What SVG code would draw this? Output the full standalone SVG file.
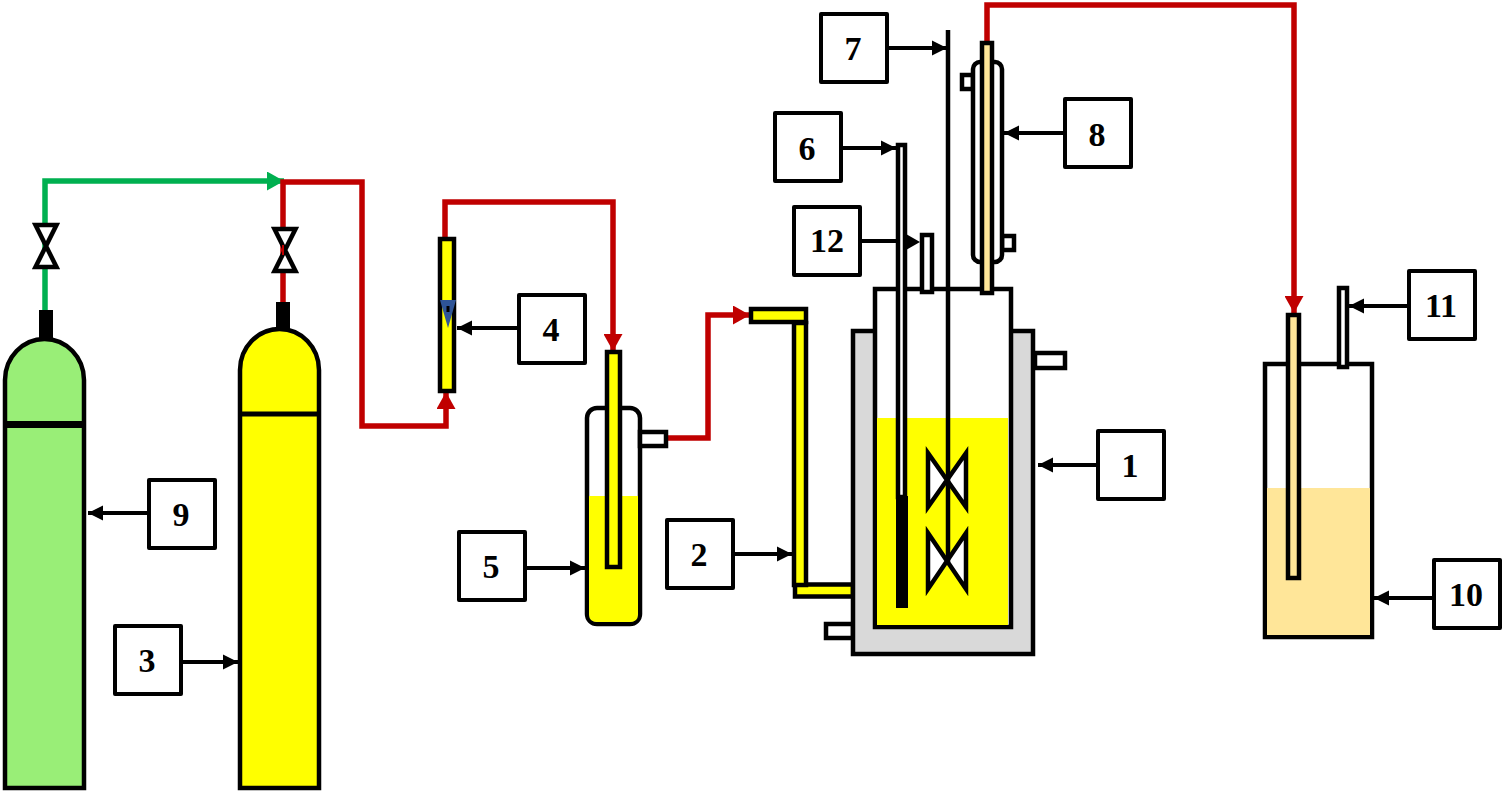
<svg xmlns="http://www.w3.org/2000/svg" width="1505" height="794" viewBox="0 0 1505 794">
<style>
.o{stroke:#000;stroke-width:4.5;stroke-linejoin:miter}
.w{fill:#fff}.y{fill:#ff0}.c{fill:#ffe699}.g{fill:#d9d9d9}.n{fill:none}
.red{fill:none;stroke:#c00000;stroke-width:5.5}
.grn{fill:none;stroke:#00b050;stroke-width:5.5}
.lead{stroke:#000;stroke-width:4;fill:none;marker-end:url(#ah)}
.box{fill:#fff;stroke:#000;stroke-width:4;stroke-linejoin:round}
text{font-family:"Liberation Serif","Times New Roman",serif;font-weight:bold;font-size:34px;text-anchor:middle;fill:#000}
</style>
<defs>
<marker id="ah" markerUnits="userSpaceOnUse" markerWidth="16" markerHeight="16" refX="15" refY="8" orient="auto"><path d="M0 0.500L15 8L0 15.500Z" fill="#000"/></marker>
<marker id="rh" markerUnits="userSpaceOnUse" markerWidth="18" markerHeight="19" refX="17" refY="9.500" orient="auto"><path d="M0 0L17 9.500L0 19Z" fill="#c00000"/></marker>
<marker id="gh" markerUnits="userSpaceOnUse" markerWidth="18" markerHeight="19" refX="17" refY="9.500" orient="auto"><path d="M0 0L17 9.500L0 19Z" fill="#00b050"/></marker>
<path id="valve" d="M-10.500 -21H10.500L-10.500 21H10.500Z" fill="#fff" stroke="#000" stroke-width="4.500"/>
</defs>
<rect width="1505" height="794" fill="#fff"/>
<g id="connectors">
<path class="grn" d="M45 312V181H284" marker-end="url(#gh)"/>
<path class="red" d="M283 304V182H362V426H446V392" marker-end="url(#rh)"/>
<path class="red" d="M445 240V202H613V351" marker-end="url(#rh)"/>
<path class="red" d="M666 438H708V315H750" marker-end="url(#rh)"/>
<path class="red" d="M987 43V5H1294V313" marker-end="url(#rh)"/>
</g>
<g id="valve-green"><use href="#valve" x="46" y="246"/></g>
<g id="valve-red"><use href="#valve" x="285" y="250"/><path d="M283 245V255" stroke="#c00000" stroke-width="2"/></g>
<g id="cylinder-green">
<rect x="39" y="310" width="14" height="32" fill="#000"/>
<path class="o" d="M5 788V380A39.500 41 0 0 1 84 380V788Z" fill="#99ee77"/>
<path d="M5 424.500H84" stroke="#000" stroke-width="7"/>
</g>
<g id="cylinder-yellow">
<rect x="276" y="302" width="14" height="32" fill="#000"/>
<path class="o y" d="M240 788V370A39.500 41 0 0 1 319 370V788Z"/>
<path d="M240 414H319" stroke="#000" stroke-width="5"/>
</g>
<g id="flowmeter">
<rect class="o y" x="440" y="239" width="14" height="152"/>
<path d="M440 300H456L448 328Z" fill="#2f5597"/>
<path d="M448 306v6" stroke="#000" stroke-width="3"/>
</g>
<g id="bubbler">
<rect class="o w" x="587" y="408" width="53" height="216" rx="10"/>
<path class="y" d="M589 496H638V614Q638 622 630 622H597Q589 622 589 614Z"/>
<rect class="o w" x="640" y="432" width="26" height="14"/>
<rect class="o y" x="607" y="352" width="13" height="215"/>
</g>
<g id="tube-2">
<rect class="o y" x="795" y="584.500" width="58" height="12"/>
<rect class="o y" x="794" y="323" width="12" height="262"/>
<rect class="o y" x="751" y="309" width="55" height="13"/>
</g>
<g id="reactor">
<rect x="1035" y="353" width="30" height="15" class="o w"/>
<rect x="826" y="624" width="27" height="14" class="o w"/>
<rect class="o g" x="853" y="331" width="180" height="323"/>
<rect class="o w" x="875" y="289" width="136" height="338"/>
<rect class="y" x="877" y="418" width="131" height="207"/>
<path class="o w" d="M928 453L966 507V453L928 507Z"/>
<path class="o w" d="M928 533L966 589V533L928 589Z"/>
<path d="M948 30V562" stroke="#000" stroke-width="4.500"/>
<rect class="o w" x="898" y="145" width="7" height="352"/>
<rect x="896" y="496" width="12" height="112" fill="#000"/>
<rect class="o w" x="922" y="235" width="10" height="57"/>
</g>
<g id="condenser">
<rect class="o w" x="962" y="75" width="11" height="14"/>
<rect class="o w" x="1002" y="236" width="12" height="14"/>
<rect class="o w" x="973" y="62" width="29" height="200" rx="7"/>
<rect class="o c" x="982" y="43" width="10" height="250"/>
</g>
<g id="vessel-10">
<rect class="o w" x="1265" y="364" width="107" height="273"/>
<rect class="c" x="1267" y="488" width="103" height="147"/>
<rect class="o c" x="1288" y="315" width="11" height="263"/>
<rect class="o w" x="1339" y="288" width="8" height="79"/>
</g>
<g id="leaders">
<path class="lead" d="M1098 465H1038"/>
<path class="lead" d="M733 554H792"/>
<path class="lead" d="M181 662H238"/>
<path class="lead" d="M519 328H457"/>
<path class="lead" d="M525 568H585"/>
<path class="lead" d="M841 148H896"/>
<path class="lead" d="M887 48H947"/>
<path class="lead" d="M1065 133H1004"/>
<path class="lead" d="M149 513H88"/>
<path class="lead" d="M1434 598H1374"/>
<path class="lead" d="M1409 306H1349"/>
<path d="M860 241H896" stroke="#000" stroke-width="4"/>
<path d="M906 234L920 242L906 250Z" fill="#000"/>
</g>
<g id="label-1"><rect class="box" x="1098" y="431" width="66" height="68"/><text x="1130" y="477">1</text></g>
<g id="label-2"><rect class="box" x="667" y="520" width="66" height="68"/><text x="699" y="566">2</text></g>
<g id="label-3"><rect class="box" x="115" y="626" width="66" height="68"/><text x="147" y="672">3</text></g>
<g id="label-4"><rect class="box" x="519" y="295" width="66" height="68"/><text x="551" y="341">4</text></g>
<g id="label-5"><rect class="box" x="459" y="532" width="66" height="68"/><text x="491" y="578">5</text></g>
<g id="label-6"><rect class="box" x="775" y="113" width="66" height="68"/><text x="807" y="160">6</text></g>
<g id="label-7"><rect class="box" x="821" y="14" width="66" height="68"/><text x="853" y="60">7</text></g>
<g id="label-8"><rect class="box" x="1065" y="99" width="66" height="68"/><text x="1097" y="146">8</text></g>
<g id="label-9"><rect class="box" x="149" y="480" width="66" height="68"/><text x="181" y="526">9</text></g>
<g id="label-10"><rect class="box" x="1434" y="560" width="66" height="68"/><text x="1466" y="606">10</text></g>
<g id="label-11"><rect class="box" x="1409" y="271" width="66" height="68"/><text x="1441" y="317">11</text></g>
<g id="label-12"><rect class="box" x="794" y="207" width="66" height="68"/><text x="827" y="252">12</text></g>
</svg>
